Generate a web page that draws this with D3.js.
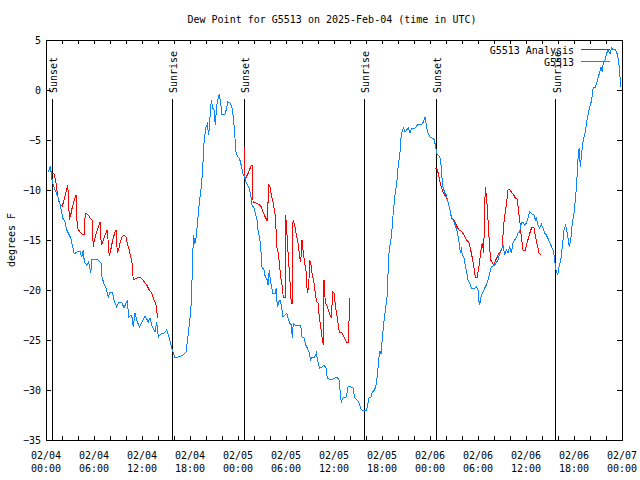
<!DOCTYPE html>
<html>
<head>
<meta charset="utf-8">
<script src="https://cdn.jsdelivr.net/npm/d3@7"></script>
<style>
  html, body { margin: 0; padding: 0; background: #fff; }
  svg { display: block; }
  text { font-family: "DejaVu Sans Mono", monospace; font-size: 10px; fill: #000; }
</style>
</head>
<body>
<svg id="chart" width="640" height="480"></svg>
<script>
// ---------------- DATA ----------------
const chartTitle = "Dew Point for G5513 on 2025-Feb-04 (time in UTC)";
const yLabel = "degrees F";
const seriesNames = ["G5513 Analysis", "G5513"];
const startUTC = Date.UTC(2025, 1, 4, 0, 0);
const endUTC = Date.UTC(2025, 1, 7, 0, 0);
const yTickValues = [-35, -30, -25, -20, -15, -10, -5, 0, 5];

// sun events, hours after 2025-02-04 00:00 UTC
const sunsetHours = [0.79, 24.81, 48.79];
const sunriseHours = [15.79, 39.79, 63.7];

// observed dew point [hour, degF]
const observed = [
[0.29,-8.2],[0.54,-7.6],[0.79,-9.2],[1.13,-10],[1.54,-10.8],[1.84,-11.7],[2.09,-12.8],[2.38,-13.2],[2.59,-14],[2.79,-14.3],
[3.09,-14.8],[3.29,-15.5],[3.54,-16.4],[3.84,-16.2],[4.25,-16.1],[4.46,-16.7],[4.66,-16.0],[4.79,-17.2],[5.09,-17.5],[5.34,-17.2],
[5.59,-18.3],[5.75,-16.9],[6.34,-16.9],[6.88,-17.3],[7.0,-18.7],[7.29,-19.5],[7.5,-19.8],[7.79,-20.7],[8.0,-20.2],[8.29,-20.2],
[8.5,-21],[8.84,-21.7],[9.04,-21.3],[9.46,-21.2],[9.75,-21.8],[10.0,-21.3],[10.16,-21.0],[10.34,-22.7],[10.71,-22.5],[10.91,-23.7],
[11.13,-22.3],[11.34,-23.0],[11.66,-23.7],[11.96,-23.3],[12.38,-22.6],[12.79,-23.2],[13.0,-22.8],[13.29,-23.7],[13.63,-24.2],[13.84,-23.2],
[14.04,-24.7],[14.46,-24.3],[14.75,-24.3],[15.09,-24.0],[15.41,-24.8],[15.71,-25.8],[16.13,-26.8],[16.54,-26.7],[17.16,-26.5],[17.5,-26.2],
[17.66,-25.2],[17.91,-23.5],[18.09,-22.2],[18.21,-20.2],[18.34,-16.3],[18.46,-14.5],[18.59,-15.4],[18.75,-14.8],[18.91,-13.5],[19.16,-11.3],
[19.34,-10.2],[19.54,-8.5],[19.75,-5.3],[19.96,-3.8],[20.16,-3.4],[20.34,-4.5],[20.5,-2.7],[20.66,-1.0],[20.84,-1.8],[21.0,-2.0],
[21.16,-3.5],[21.34,-1.5],[21.54,-0.8],[21.66,-0.4],[21.84,-1.3],[21.96,-2.4],[22.38,-2.4],[22.59,-1.8],[22.71,-1.2],[23.0,-1.3],
[23.21,-1.6],[23.34,-2.2],[23.5,-3.5],[23.66,-5.2],[23.75,-6.2],[23.91,-6.6],[24.16,-6.8],[24.34,-7.3],[24.54,-8.1],[24.66,-8.5],
[24.79,-8.6],[25.04,-9.3],[25.34,-9.7],[25.59,-10.5],[25.75,-11.5],[26.0,-11.8],[26.16,-12.3],[26.38,-13.0],[26.5,-14.0],[26.71,-14.8],
[26.79,-15.3],[26.91,-16.5],[27.0,-17.7],[27.25,-18.0],[27.41,-18.7],[27.66,-19.0],[27.75,-19.5],[27.91,-18.0],[28.04,-19.0],[28.16,-19.5],
[28.34,-20.3],[28.66,-20.3],[28.79,-19.8],[28.91,-21.7],[29.09,-21.2],[29.25,-21.0],[29.41,-21.5],[29.63,-22.7],[29.84,-22.5],[30.09,-22.3],
[30.25,-22.8],[30.46,-23.3],[30.66,-23.5],[30.79,-24.8],[30.91,-23.3],[31.16,-23.5],[31.84,-23.5],[32.0,-24.7],[32.25,-24.8],[32.46,-25.5],
[32.66,-25.8],[32.88,-26.2],[33.09,-27.0],[33.25,-26.7],[33.59,-26.7],[33.79,-26.3],[34.0,-27.2],[34.21,-27.8],[34.5,-27.7],[34.75,-27.5],
[35.0,-27.8],[35.16,-28.8],[35.66,-29.0],[36.09,-28.8],[36.38,-28.7],[36.63,-29.0],[36.79,-30.3],[36.91,-31.2],[37.13,-30.8],[37.54,-30.7],
[37.75,-29.7],[37.96,-29.6],[38.38,-29.8],[38.59,-30.8],[39.0,-31.1],[39.21,-31.5],[39.38,-31.9],[39.66,-32.1],[40.09,-32.0],[40.38,-30.8],
[40.63,-30.7],[40.79,-30.2],[41.04,-30.0],[41.21,-29.7],[41.34,-29.1],[41.46,-28.2],[41.63,-26.7],[41.75,-26.1],[41.88,-26.4],[42.04,-24.8],
[42.29,-22.8],[42.46,-21.8],[42.66,-20.5],[42.79,-17.5],[42.91,-15.8],[43.09,-15.2],[43.21,-14.3],[43.41,-12.2],[43.63,-10.5],[43.84,-9.3],
[44.04,-7.5],[44.25,-6.2],[44.38,-4.8],[44.54,-4.0],[44.71,-3.8],[44.88,-4.2],[45.09,-4.0],[45.29,-3.8],[45.5,-4.3],[45.71,-3.8],
[46.13,-3.8],[46.34,-3.6],[46.54,-3.4],[46.96,-3.5],[47.16,-3.2],[47.38,-2.7],[47.54,-3.5],[47.71,-4.2],[48.0,-4.7],[48.29,-4.8],
[48.54,-5.0],[48.71,-5.7],[48.84,-6.4],[49.04,-6.5],[49.25,-6.8],[49.38,-7.5],[49.5,-8.8],[49.63,-9.7],[49.84,-10.3],[50.04,-10.5],
[50.25,-11.2],[50.46,-11.8],[50.59,-12.5],[50.88,-13.0],[51.16,-13.5],[51.41,-14.2],[51.59,-15.0],[51.71,-15.8],[51.84,-16.3],[51.91,-15.7],
[52.04,-16.5],[52.25,-16.8],[52.41,-17.5],[52.59,-18.2],[52.75,-19.0],[52.96,-19.3],[53.16,-19.8],[53.59,-19.8],[53.79,-19.7],[54.0,-20.0],
[54.09,-21.0],[54.21,-21.5],[54.41,-20.5],[54.63,-20.2],[54.84,-19.8],[55.04,-19.5],[55.25,-19.0],[55.46,-18.3],[55.66,-17.7],[55.88,-17.6],
[56.09,-17.5],[56.5,-17.0],[56.71,-16.3],[56.91,-16.0],[57.13,-15.5],[57.34,-16.5],[57.54,-16.0],[57.75,-16.3],[57.96,-15.7],[58.16,-16.3],
[58.38,-15.3],[58.59,-15.0],[58.84,-14.7],[59.0,-14.3],[59.21,-14.2],[59.41,-13.3],[59.63,-13.2],[59.84,-13.5],[60.04,-13.3],[60.25,-12.8],
[60.46,-12.2],[60.75,-12.4],[61.0,-12.5],[61.16,-13.0],[61.29,-12.8],[61.5,-13.5],[61.71,-13.8],[61.91,-13.4],[62.13,-13.8],[62.34,-14.3],
[62.54,-14.5],[62.84,-15.0],[63.09,-15.5],[63.38,-16.0],[63.59,-16.8],[63.66,-17.7],[63.84,-18.2],[63.96,-18.5],[64.13,-17.7],[64.38,-16.8],
[64.59,-15.3],[64.75,-14.0],[64.96,-13.5],[65.09,-14.0],[65.29,-15.0],[65.41,-15.7],[65.63,-14.7],[65.79,-13.3],[66.0,-12.3],[66.21,-10.7],
[66.38,-8.7],[66.54,-6.3],[66.66,-5.8],[66.79,-7.7],[66.96,-6.3],[67.16,-5.0],[67.38,-4.3],[67.59,-3.2],[67.88,-2.0],[68.21,-1.0],
[68.41,0.3],[68.63,0.2],[68.84,0.7],[69.04,1.3],[69.38,2.3],[69.54,1.8],[69.66,2.7],[69.88,3.0],[70.09,3.7],[70.29,4.0],
[70.5,3.6],[70.71,4.2],[70.91,4.0],[71.13,4.1],[71.34,3.8],[71.54,3.0],[71.66,2.3],[71.75,1.3],[71.88,0.3]
];

// analysis dew point [hour, degF]; null marks a gap
const analysis = [
[0.79,-8.3],[1.04,-8.4],[1.25,-9.3],[1.41,-10.3],[1.66,-11.3],[1.84,-11.5],[2.04,-11.6],[2.25,-11.0],[2.5,-10.2],[2.71,-9.5],
[2.84,-11.0],[2.91,-13.0],[3.09,-12.5],[3.29,-11.7],[3.54,-11.0],[3.75,-10.5],[3.91,-13.8],[4.25,-14.2],[4.5,-14.4],[4.75,-14.5],
[4.91,-12.3],[5.29,-12.5],[5.5,-12.8],[5.75,-13.0],[5.91,-15.7],[6.04,-15.0],[6.34,-14.2],[6.54,-13.7],[6.75,-13.2],[6.91,-15.5],
[7.09,-15.2],[7.38,-14.5],[7.66,-14.0],[7.91,-16.6],[8.09,-16.0],[8.34,-15.0],[8.63,-14.2],[8.75,-14.0],[8.91,-16.2],[9.09,-16.0],
[9.25,-15.3],[9.5,-14.7],[9.75,-14.5],[10.0,-14.7],[10.21,-15.5],[10.41,-16.0],[10.59,-16.7],[10.75,-17.3],[10.91,-19.0],[11.34,-18.8],
[11.75,-18.7],[12.04,-18.9],[12.38,-19.3],[12.66,-19.6],[12.91,-20.0],[13.21,-20.3],[13.41,-20.8],[13.66,-21.3],[13.84,-21.7],[13.91,-22.8],
[20, null],
[24.75,-5.5],[24.79,-8.7],[25.04,-8.7],[25.34,-8.2],[25.66,-7.5],[25.79,-7.5],[25.88,-11.2],[26.29,-11.3],[26.71,-11.5],[26.91,-11.7],
[27.13,-12.2],[27.41,-12.7],[27.66,-13.1],[27.84,-9.5],[28.0,-9.7],[28.16,-10.5],[28.38,-11.2],[28.59,-12.2],[28.71,-13.0],[28.84,-15.7],
[29.0,-16.2],[29.16,-17.2],[29.34,-18.7],[29.5,-19.5],[29.66,-20.7],[29.88,-20.7],[29.91,-12.5],[30.04,-13.2],[30.16,-15.0],[30.34,-17.3],
[30.5,-19.2],[30.66,-21.3],[30.79,-21.3],[30.88,-13.0],[31.09,-13.5],[31.29,-14.5],[31.5,-15.3],[31.71,-16.7],[31.84,-17.2],[32.0,-15.0],
[32.13,-16.0],[32.34,-17.3],[32.54,-18.3],[32.66,-20.3],[32.84,-19.7],[32.96,-17.0],[33.09,-17.3],[33.25,-18.3],[33.5,-19.3],[33.66,-20.3],
[33.84,-21.2],[34.0,-21.3],[34.16,-22.7],[34.34,-23.7],[34.5,-24.7],[34.66,-25.5],[34.75,-19.0],[34.91,-21.2],[35.16,-21.7],[35.41,-22.3],
[35.66,-22.8],[35.84,-20.2],[36.0,-20.3],[36.16,-21.5],[36.41,-22.8],[36.66,-24.2],[37.0,-24.3],[37.25,-24.7],[37.54,-25.2],[37.75,-25.3],
[37.88,-23.0],[37.91,-20.8],
[44, null],
[48.66,-7.8],[48.88,-7.9],[49.09,-8.5],[49.25,-9.2],[49.41,-9.7],[49.63,-10.2],[49.84,-10.5],[50.04,-10.7],[50.25,-11.2],[50.46,-11.8],
[50.66,-12.8],[51.0,-13.0],[51.29,-13.5],[51.59,-14.0],[51.91,-14.1],[52.25,-14.5],[52.54,-15.0],[52.84,-15.2],[53.09,-16.0],[53.29,-16.8],
[53.5,-17.8],[53.66,-18.7],[53.91,-18.7],[54.09,-17.8],[54.25,-16.8],[54.41,-15.8],[54.54,-15.3],[54.71,-16.3],[54.79,-13.5],[54.91,-9.7],
[55.04,-10.5],[55.16,-11.8],[55.25,-13.0],[55.34,-14.2],[55.46,-15.8],[55.59,-17.0],[55.75,-17.2],[55.96,-17.5],[56.16,-17.1],[56.41,-16.7],
[56.63,-16.3],[56.84,-16.2],[57.0,-15.8],[57.13,-14.5],[57.25,-13.2],[57.41,-12.2],[57.59,-11.2],[57.75,-10.0],[57.96,-9.9],[58.16,-10.2],
[58.41,-10.4],[58.66,-10.8],[58.91,-10.9],[59.09,-12.2],[59.25,-13.3],[59.41,-14.7],[59.63,-16.0],[59.91,-16.0],[60.13,-15.3],[60.34,-14.7],
[60.59,-14.0],[60.79,-13.7],[61.0,-13.8],[61.16,-14.5],[61.41,-15.5],[61.63,-16.3],[61.91,-16.5]
];

// ---------------- DRAWING ----------------
const W = 640, H = 480;
const L = 46, R = 622, T = 40, B = 440;
const hourMs = 3600 * 1000;
const toDate = h => new Date(startUTC + h * hourMs);

const svg = d3.select("#chart");
const x = d3.scaleUtc().domain([new Date(startUTC), new Date(endUTC)]).range([L, R]);
const y = d3.scaleLinear().domain([-35, 5]).range([B, T]);

// title
svg.append("text").attr("x", 332).attr("y", 23).attr("text-anchor", "middle").text(chartTitle);

// y label
svg.append("text").attr("transform", "translate(15,240) rotate(-90)")
  .attr("text-anchor", "middle").text(yLabel);

// axes
const xTicks = d3.utcHour.every(2).range(new Date(startUTC), new Date(endUTC + 1));
const gxB = svg.append("g").attr("transform", `translate(0,${B})`)
  .call(d3.axisBottom(x).tickValues(xTicks).tickSize(-4).tickFormat(""));
const gxT = svg.append("g").attr("transform", `translate(0,${T})`)
  .call(d3.axisTop(x).tickValues(xTicks).tickSize(-4).tickFormat(""));
const gyL = svg.append("g").attr("transform", `translate(${L},0)`)
  .call(d3.axisLeft(y).tickValues(yTickValues).tickSize(-5).tickPadding(6).tickFormat(d3.format("d")));
const gyR = svg.append("g").attr("transform", `translate(${R},0)`)
  .call(d3.axisRight(y).tickValues(yTickValues).tickSize(-5).tickFormat(""));
[gxB, gxT, gyL, gyR].forEach(g => {
  g.select(".domain").remove();
  g.selectAll("line").attr("stroke", "#000").attr("shape-rendering", "crispEdges");
});
gyL.selectAll("text").attr("font-family", null).attr("font-size", null).attr("fill", "#000")
  .attr("dy", "0.35em").attr("x", -5);

// x tick labels (every 6 hours, two lines)
const labelTicks = d3.utcHour.every(6).range(new Date(startUTC), new Date(endUTC + 1));
const fmtDay = d3.utcFormat("%m/%d"), fmtHour = d3.utcFormat("%H:%M");
const xl = svg.append("g");
labelTicks.forEach(d => {
  const t = xl.append("text").attr("x", x(d)).attr("text-anchor", "middle");
  t.append("tspan").attr("x", x(d)).attr("y", 459).text(fmtDay(d));
  t.append("tspan").attr("x", x(d)).attr("y", 472).text(fmtHour(d));
});

// sunrise / sunset lines
const sunEvents = sunsetHours.map(h => ({h, name: "Sunset"}))
  .concat(sunriseHours.map(h => ({h, name: "Sunrise"})));
sunEvents.forEach(ev => {
  const px = x(toDate(ev.h));
  svg.append("line").attr("x1", px).attr("x2", px).attr("y1", 99).attr("y2", B)
    .attr("stroke", "#000").attr("shape-rendering", "crispEdges");
  svg.append("text").attr("transform", `translate(${px + 5},93) rotate(-90)`)
    .attr("text-anchor", "start").text(ev.name);
});

// data lines
const line = d3.line()
  .defined(d => d[1] !== null)
  .x(d => x(toDate(d[0])))
  .y(d => y(d[1]));

svg.append("path").datum(analysis).attr("d", line)
  .attr("fill", "none").attr("stroke", "#ff0000").attr("stroke-width", 1)
  .attr("shape-rendering", "crispEdges");
svg.append("path").datum(observed).attr("d", line)
  .attr("fill", "none").attr("stroke", "#0a84ff").attr("stroke-width", 1)
  .attr("shape-rendering", "crispEdges");

// legend
const legend = [
  {name: seriesNames[0], color: "#ff0000", y: 50},
  {name: seriesNames[1], color: "#0a84ff", y: 62}
];
legend.forEach(l => {
  svg.append("text").attr("x", 574).attr("y", l.y).attr("dy", "0.35em")
    .attr("text-anchor", "end").text(l.name);
  svg.append("line").attr("x1", 581).attr("x2", 610).attr("y1", l.y - 0.5).attr("y2", l.y - 0.5)
    .attr("stroke", l.color).attr("shape-rendering", "crispEdges");
});

// frame
svg.append("rect").attr("x", L).attr("y", T).attr("width", R - L).attr("height", B - T)
  .attr("fill", "none").attr("stroke", "#000").attr("shape-rendering", "crispEdges");
</script>
</body>
</html>
